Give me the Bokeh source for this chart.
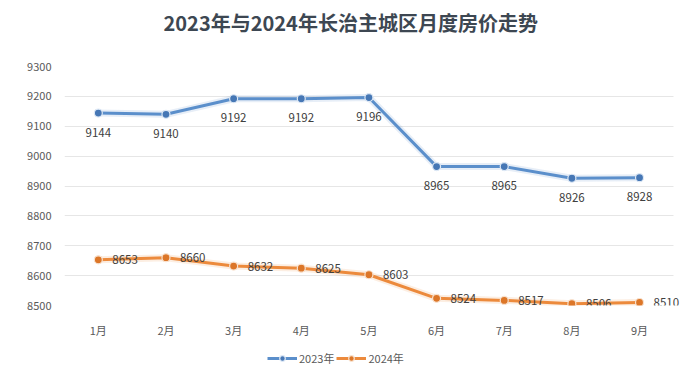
import numpy as np
from bokeh.plotting import figure
from bokeh.layouts import column
from bokeh.models import Range1d, Legend, LegendItem, ColumnDataSource, Label
from bokeh.core.properties import value
from bokeh.embed import file_html
from bokeh.resources import INLINE

months = ["1月", "2月", "3月", "4月", "5月", "6月", "7月", "8月", "9月"]
price_2023 = [9144, 9140, 9192, 9192, 9196, 8965, 8965, 8926, 8928]
price_2024 = [8653, 8660, 8632, 8625, 8603, 8524, 8517, 8506, 8510]
y_ticks = [8500, 8600, 8700, 8800, 8900, 9000, 9100, 9200, 9300]
title_text = "2023年与2024年长治主城区月度房价走势"
series_names = ["2023年", "2024年"]

FONT = "Noto Sans CJK SC"
BLUE = "#5B8FCB"
BLUE_D = "#4677B5"
ORANGE = "#EC8A3C"
ORANGE_D = "#DC7628"
W = 683


def strip(h):
    f = figure(width=W, height=h, output_backend="svg", toolbar_location=None,
               x_axis_type=None, y_axis_type=None,
               x_range=Range1d(0, 1), y_range=Range1d(0, 1),
               min_border_left=0, min_border_right=0, min_border_top=0, min_border_bottom=0)
    f.outline_line_color = None
    f.xgrid.grid_line_color = None
    f.ygrid.grid_line_color = None
    f.border_fill_color = "white"
    return f


# ---- title strip ----
top = strip(58)
top.add_layout(Label(x=99, y=36, x_units="screen", y_units="screen", text=title_text,
                     text_font=FONT, text_font_size="20px", text_font_style="bold",
                     text_color="#3D4752", text_align="left", text_baseline="middle"))

# ---- main chart ----
idx = list(range(len(months)))
src = ColumnDataSource(dict(
    x=idx, a=price_2023, b=price_2024,
    la=[str(v) for v in price_2023], lb=[str(v) for v in price_2024],
))

p = figure(width=W, height=282, output_backend="svg", toolbar_location=None,
           x_range=Range1d(-0.5, 8.65),
           y_range=Range1d(8500, 9300),
           min_border_left=64, min_border_right=0, min_border_top=8, min_border_bottom=29)
p.outline_line_color = None
p.background_fill_color = "white"
p.border_fill_color = "white"

p.xgrid.grid_line_color = None
p.ygrid.grid_line_color = "#E6E6E6"
p.ygrid.grid_line_width = 1
p.ygrid.cross_bounds = (-0.5, len(months) - 0.5)
p.yaxis.ticker = y_ticks
p.xaxis.ticker = idx
p.xaxis.major_label_overrides = {i: m for i, m in zip(idx, months)}
for ax in (p.xaxis, p.yaxis):
    ax.axis_line_color = None
    ax.major_tick_line_color = None
    ax.minor_tick_line_color = None
    ax.major_label_text_font = FONT
    ax.major_label_text_font_size = "11px"
    ax.major_label_text_color = "#595959"
p.yaxis.major_label_standoff = 7
p.xaxis.major_label_standoff = 10

# soft glow
p.line("x", "a", source=src, line_color=BLUE, line_width=7, line_alpha=0.15)
p.line("x", "b", source=src, line_color=ORANGE, line_width=7, line_alpha=0.15)
p.line("x", "a", source=src, line_color=BLUE, line_width=3)
p.scatter("x", "a", source=src, size=8, fill_color=BLUE_D, line_color="#DDE8F5", line_width=1.2)
p.line("x", "b", source=src, line_color=ORANGE, line_width=3)
p.scatter("x", "b", source=src, size=8, fill_color=ORANGE_D, line_color="#F8E2CF", line_width=1.2)

p.text("x", "a", text="la", source=src, text_font=value(FONT), text_font_size="11.5px",
       text_color="#404040", text_align="center", text_baseline="middle", y_offset=19)
p.text("x", "b", text="lb", source=src, text_font=value(FONT), text_font_size="11.5px",
       text_color="#404040", text_align="left", text_baseline="middle", x_offset=14, y_offset=0)

# ---- legend strip ----
q = strip(33)
nan = np.array([np.nan])
ka = q.line(x=nan, y=nan, line_color=BLUE, line_width=3)
kma = q.scatter(x=nan, y=nan, size=8, fill_color=BLUE_D, line_color="#DDE8F5", line_width=1.2)
kb = q.line(x=nan, y=nan, line_color=ORANGE, line_width=3)
kmb = q.scatter(x=nan, y=nan, size=8, fill_color=ORANGE_D, line_color="#F8E2CF", line_width=1.2)

legend = Legend(items=[LegendItem(label=series_names[0], renderers=[ka, kma]),
                       LegendItem(label=series_names[1], renderers=[kb, kmb])],
                orientation="horizontal", location=(203, 7),
                glyph_width=30, glyph_height=14, label_standoff=2, spacing=2,
                padding=0, margin=0, border_line_color=None, background_fill_alpha=0,
                label_text_font=FONT, label_text_font_size="11px", label_text_color="#595959")
q.add_layout(legend, "center")

layout = column(top, p, q, spacing=0)
open("out.html", "w").write(file_html(layout, INLINE))
